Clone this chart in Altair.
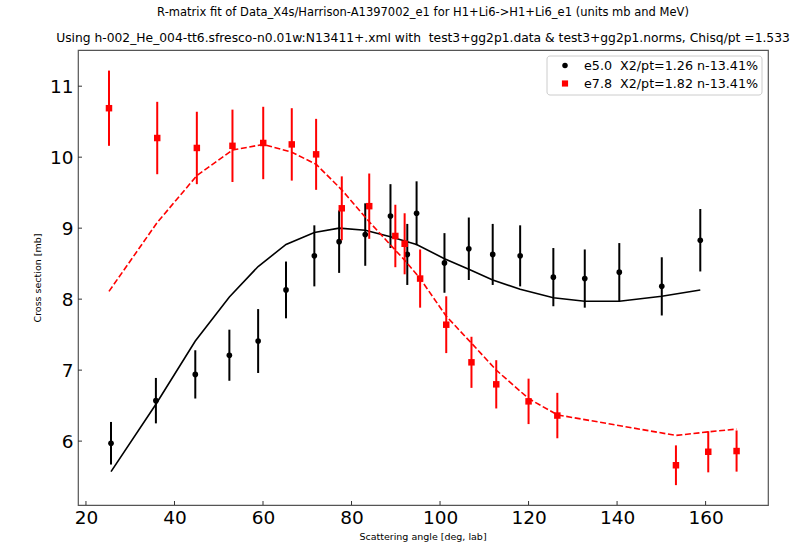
import altair as alt
import pandas as pd

# ---------------- data ----------------
NB = "\u00a0"
title_lines = [
    "R-matrix fit of Data_X4s/Harrison-A1397002_e1 for H1+Li6->H1+Li6_e1 (units mb and MeV)",
    "Using h-002_He_004-tt6.sfresco-n0.01w:N13411+.xml with " + NB + "test3+gg2p1.data & test3+gg2p1.norms, Chisq/pt =1.533",
]
x_title = "Scattering angle [deg, lab]"
y_title = "Cross section [mb]"
x_ticks = [20, 40, 60, 80, 100, 120, 140, 160]
y_ticks = [6, 7, 8, 9, 10, 11]
legend_labels = ["e5.0 " + NB + "X2/pt=1.26 n-13.41%", "e7.8 " + NB + "X2/pt=1.82 n-13.41%"]

e5_angle = [25.66, 35.8, 44.7, 52.4, 58.9, 65.2, 71.6, 77.2, 83.1, 88.8, 92.6,
            94.7, 101.0, 106.5, 111.9, 118.1, 125.6, 132.7, 140.5, 150.1, 158.8]
e5_value = [5.97, 6.57, 6.94, 7.21, 7.41, 8.13, 8.61, 8.81, 8.91, 9.17, 8.63,
            9.21, 8.51, 8.71, 8.63, 8.61, 8.31, 8.29, 8.38, 8.18, 8.83]
e5_error = [0.30, 0.32, 0.34, 0.36, 0.45, 0.40, 0.43, 0.44, 0.44, 0.45, 0.43,
            0.45, 0.42, 0.44, 0.43, 0.43, 0.41, 0.41, 0.41, 0.41, 0.44]
e5_fit = [5.57, 6.52, 7.41, 8.03, 8.46, 8.77, 8.94, 9.00, 8.97, 8.88, 8.81,
          8.77, 8.57, 8.42, 8.27, 8.14, 8.02, 7.97, 7.97, 8.04, 8.13]

e78_angle = [25.2, 36.1, 45.05, 53.1, 60.05, 66.5, 72.0, 77.8, 84.0, 89.9,
             92.0, 95.5, 101.4, 107.1, 112.7, 120.0, 126.5, 153.3, 160.6, 167.0]
e78_value = [10.69, 10.27, 10.13, 10.16, 10.20, 10.18, 10.04, 9.28, 9.31, 8.89,
             8.78, 8.29, 7.64, 7.11, 6.80, 6.56, 6.36, 5.66, 5.85, 5.86]
e78_error = [0.53, 0.51, 0.51, 0.51, 0.51, 0.51, 0.50, 0.45, 0.46, 0.44,
             0.43, 0.41, 0.40, 0.36, 0.34, 0.32, 0.32, 0.28, 0.29, 0.29]
e78_fit = [8.11, 9.08, 9.74, 10.10, 10.18, 10.07, 9.90, 9.54, 9.09, 8.69,
           8.55, 8.29, 7.76, 7.38, 7.00, 6.60, 6.37, 6.08, 6.13, 6.17]

# ---------------- tables ----------------
def table(angle, value, error, fit):
    return pd.DataFrame({
        "angle": angle, "value": value, "fit": fit,
        "lo": [v - e for v, e in zip(value, error)],
        "hi": [v + e for v, e in zip(value, error)],
    })

d5 = table(e5_angle, e5_value, e5_error, e5_fit)
d78 = table(e78_angle, e78_value, e78_error, e78_fit)

W, H = 690, 455
FONT = "DejaVu Sans"
BLACK, RED = "#000000", "#ff0000"

xs = alt.Scale(domain=[18.2, 174.1], nice=False, zero=False)
ys = alt.Scale(domain=[5.1, 11.51], nice=False, zero=False)

xax = alt.Axis(values=x_ticks, labelFontSize=18.5, labelFont=FONT, labelColor="black",
               tickSize=0, domain=False, grid=False, labelPadding=3, title=None, format="d")
yax = alt.Axis(values=y_ticks, labelFontSize=18.5, labelFont=FONT, labelColor="black",
               tickSize=0, domain=False, grid=False, labelPadding=5, title=None, format="d")


def series(df, color, shape, size, dash):
    base = alt.Chart(df)
    bars = base.mark_rule(color=color, strokeWidth=2).encode(
        x=alt.X("angle:Q", scale=xs, axis=xax),
        y=alt.Y("lo:Q", scale=ys, axis=yax),
        y2="hi:Q",
    )
    pts = base.mark_point(filled=True, shape=shape, size=size, color=color, opacity=1).encode(
        x=alt.X("angle:Q", scale=xs), y=alt.Y("value:Q", scale=ys)
    )
    line_kw = dict(color=color, strokeWidth=1.6)
    if dash:
        line_kw["strokeDash"] = dash
    line = base.mark_line(**line_kw).encode(
        x=alt.X("angle:Q", scale=xs), y=alt.Y("fit:Q", scale=ys)
    )
    return [bars, pts, line]


layers = []
layers += series(d5, BLACK, "circle", 32, None)
layers += series(d78, RED, "square", 42, [6, 2.6])

# inward tick marks
xt = pd.DataFrame({"t": x_ticks})
yt = pd.DataFrame({"t": y_ticks})
layers.append(alt.Chart(xt).mark_rule(color="#333", strokeWidth=1).encode(
    x=alt.X("t:Q", scale=xs), y=alt.value(H), y2=alt.value(H - 4)))
layers.append(alt.Chart(yt).mark_rule(color="#333", strokeWidth=1).encode(
    y=alt.Y("t:Q", scale=ys), x=alt.value(0), x2=alt.value(4)))

one = pd.DataFrame({"a": [0]})

# legend box
layers.append(alt.Chart(one).mark_rect(fill="white", fillOpacity=0.8, stroke="#cccccc",
                                       strokeWidth=1, cornerRadius=3).encode(
    x=alt.value(469), x2=alt.value(684), y=alt.value(6), y2=alt.value(45)))
layers.append(alt.Chart(pd.DataFrame({"a": [0]})).mark_point(
    filled=True, shape="circle", size=30, color=BLACK, opacity=1).encode(
    x=alt.value(487), y=alt.value(15.5)))
layers.append(alt.Chart(pd.DataFrame({"a": [0]})).mark_point(
    filled=True, shape="square", size=38, color=RED, opacity=1).encode(
    x=alt.value(487), y=alt.value(33.5)))
layers.append(alt.Chart(pd.DataFrame({"label": [legend_labels[0]]})).mark_text(
    align="left", baseline="middle", font=FONT, fontSize=12.7, color="black").encode(
    x=alt.value(506), y=alt.value(15.5), text="label:N"))
layers.append(alt.Chart(pd.DataFrame({"label": [legend_labels[1]]})).mark_text(
    align="left", baseline="middle", font=FONT, fontSize=12.7, color="black").encode(
    x=alt.value(506), y=alt.value(33.5), text="label:N"))

# titles
layers.append(alt.Chart(pd.DataFrame({"t": [title_lines[0]]})).mark_text(
    align="center", baseline="middle", font=FONT, fontSize=11.5, color="black").encode(
    x=alt.value(345), y=alt.value(-37), text="t:N"))
layers.append(alt.Chart(pd.DataFrame({"t": [title_lines[1]]})).mark_text(
    align="center", baseline="middle", font=FONT, fontSize=12.3, color="black").encode(
    x=alt.value(345), y=alt.value(-12), text="t:N"))
layers.append(alt.Chart(pd.DataFrame({"t": [x_title]})).mark_text(
    align="center", baseline="middle", font=FONT, fontSize=9.5, color="black").encode(
    x=alt.value(345), y=alt.value(487), text="t:N"))
layers.append(alt.Chart(pd.DataFrame({"t": [y_title]})).mark_text(
    align="center", baseline="middle", font=FONT, fontSize=9.5, color="black", angle=270).encode(
    x=alt.value(-40), y=alt.value(228), text="t:N"))

chart = alt.layer(*layers).properties(
    width=W, height=H,
    autosize=alt.AutoSizeParams(type="none"),
    padding={"left": 78, "top": 50, "right": 805 - 78 - W, "bottom": 547 - 50 - H},
    background="white",
).configure_view(stroke="#555555", strokeWidth=1.2)

chart.save("out.html", embed_options={"renderer": "svg", "actions": False})
